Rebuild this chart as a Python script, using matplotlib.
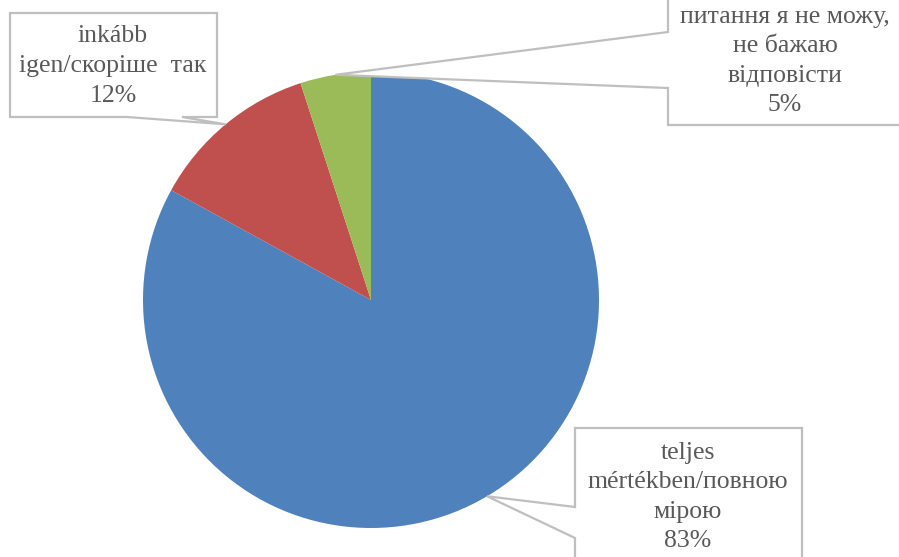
import numpy as np
import matplotlib.pyplot as plt
from matplotlib.patches import Polygon

W, H = 899, 557

labels = ['teljes\nmértékben/повною\nмірою',
          'inkább\nigen/скоріше  так',
          'питання я не можу,\nне бажаю\nвідповісти']
values = [83, 12, 5]
colors = ['#4F81BD', '#C0504D', '#9BBB59']

text_gray = '#595959'
box_gray = '#BFBFBF'

# callout boxes in image pixels: (left, top, right, bottom), side the pointer leaves from, pointer base
boxes = [
    dict(rect=(575, 428, 802, 640), side='left', base=(507, 538)),
    dict(rect=(10, 13, 217, 117), side='bottom', base=(182, 127)),
    dict(rect=(668, -3, 905, 125), side='left', base=(32, 88)),
]
text_pos = [(688, 497), (113, 66), (785, 61)]

def Y(y):
    return H - y

fig = plt.figure(figsize=(W / 100, H / 100), dpi=100)
ax = fig.add_axes([0, 0, 1, 1])
center = (371, Y(300))
radius = 228
wedges, _ = ax.pie(values, colors=colors, startangle=90, counterclock=False,
                   center=center, radius=radius,
                   wedgeprops=dict(linewidth=0))
ax.set_xlim(0, W)
ax.set_ylim(0, H)
ax.set_aspect('equal')
ax.axis('off')

for w, lab, v, b, tp in zip(wedges, labels, values, boxes, text_pos):
    mid = np.deg2rad((w.theta1 + w.theta2) / 2)
    tip = (center[0] + radius * np.cos(mid), center[1] + radius * np.sin(mid))
    l, t, r, btm = b['rect']
    b1, b2 = b['base']
    if b['side'] == 'left':
        pts = [(l, Y(t)), (r, Y(t)), (r, Y(btm)), (l, Y(btm)),
               (l, Y(b2)), tip, (l, Y(b1))]
    else:
        pts = [(l, Y(t)), (r, Y(t)), (r, Y(btm)), (b1, Y(btm)),
               tip, (b2, Y(btm)), (l, Y(btm))]
    ax.add_patch(Polygon(pts, closed=True, facecolor='white', edgecolor=box_gray,
                         linewidth=1.6, zorder=5, joinstyle='miter'))
    ax.text(tp[0], Y(tp[1]), f'{lab}\n{v}%', ha='center', va='center',
            fontsize=18.5, family='Liberation Serif', color=text_gray,
            linespacing=1.45, zorder=6)

fig.savefig('out.png', dpi=100)
